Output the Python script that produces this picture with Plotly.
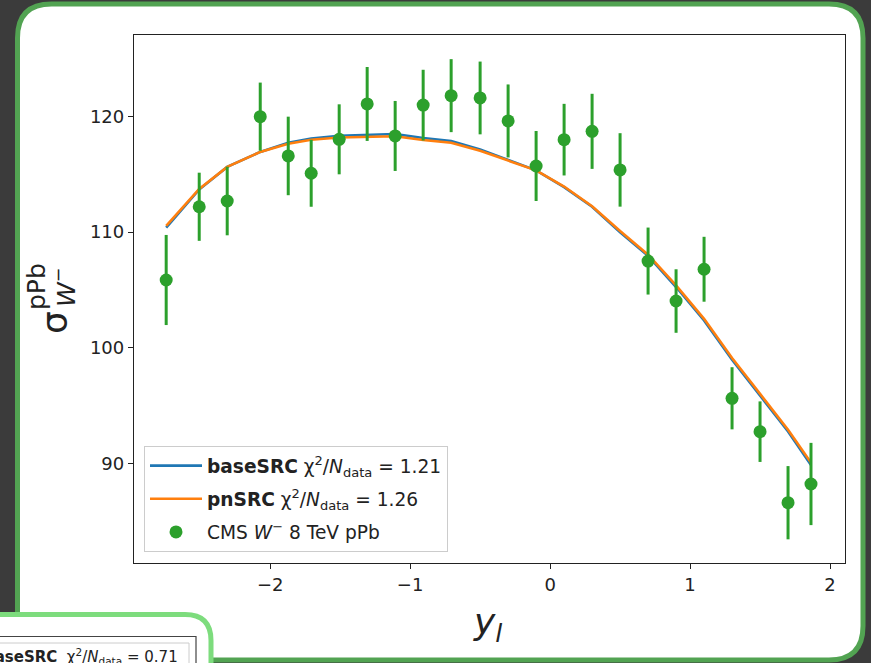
import plotly.graph_objects as go

# Lepton rapidity bin centres (centre-of-mass frame)
y_lep = [-2.743, -2.507, -2.307, -2.071, -1.871, -1.707, -1.507, -1.307,
         -1.107, -0.907, -0.707, -0.5, -0.3, -0.1, 0.1, 0.3, 0.5, 0.7,
         0.9, 1.1, 1.3, 1.5, 1.7, 1.864]

# CMS W- 8 TeV pPb cross sections and uncertainties
cms_sigma = [105.86, 112.2, 112.7, 120.0, 116.6, 115.1, 118.04, 121.1,
             118.33, 121.0, 121.82, 121.62, 119.63, 115.73, 118.01, 118.73,
             115.39, 107.5, 104.04, 106.79, 95.62, 92.73, 86.58, 88.2]
cms_err = [3.9, 2.95, 2.97, 2.95, 3.4, 2.9, 3.03, 3.2, 3.03, 3.06, 3.16,
           3.15, 3.16, 3.03, 3.1, 3.25, 3.18, 2.9, 2.75, 2.81, 2.69, 2.62,
           3.17, 3.56]

# Theory predictions
base_src = [110.4, 113.7, 115.65, 116.95, 117.75, 118.1, 118.35, 118.45,
            118.5, 118.15, 117.9, 117.15, 116.25, 115.35, 113.9, 112.2,
            110.0, 107.95, 105.25, 102.35, 98.95, 95.8, 92.75, 89.85]
pn_src = [110.55, 113.75, 115.65, 116.95, 117.65, 118.0, 118.2, 118.27,
          118.3, 117.98, 117.75, 117.05, 116.2, 115.35, 113.95, 112.25,
          110.1, 108.05, 105.4, 102.5, 99.1, 95.95, 92.9, 90.05]

chi2_base = 1.21
chi2_pn = 1.26
chi2_other = 0.71

x_ticks = [-2, -1, 0, 1, 2]
y_ticks = [90, 100, 110, 120]

W, H = 871, 663
L, R, T, B = 134, 26, 35, 100
PW, PH = W - L - R, H - T - B

BLUE, ORANGE, GREEN = "#1f77b4", "#ff7f0e", "#2ca02c"
FONT = "DejaVu Sans"


def px(X):
    return (X - L) / PW


def py(Y):
    return (H - B - Y) / PH


def rounded_path(x0, y0, x1, y1, r):
    """Rounded rectangle path in paper units from pixel corners."""
    pts = [
        f"M {px(x0 + r)},{py(y0)}",
        f"L {px(x1 - r)},{py(y0)}",
        f"Q {px(x1)},{py(y0)} {px(x1)},{py(y0 + r)}",
        f"L {px(x1)},{py(y1 - r)}",
        f"Q {px(x1)},{py(y1)} {px(x1 - r)},{py(y1)}",
        f"L {px(x0 + r)},{py(y1)}",
        f"Q {px(x0)},{py(y1)} {px(x0)},{py(y1 - r)}",
        f"L {px(x0)},{py(y0 + r)}",
        f"Q {px(x0)},{py(y0)} {px(x0 + r)},{py(y0)}",
        "Z",
    ]
    return " ".join(pts)


fig = go.Figure()

fig.add_trace(go.Scatter(
    x=y_lep, y=base_src, mode="lines",
    line=dict(color=BLUE, width=2.6),
    name=f"<b>baseSRC</b> χ<sup>2</sup>/<i>N</i><sub>data</sub> = {chi2_base:.2f}",
    legendgroup="a",
))
fig.add_trace(go.Scatter(
    x=y_lep, y=pn_src, mode="lines",
    line=dict(color=ORANGE, width=2.6),
    name=f"<b>pnSRC</b> χ<sup>2</sup>/<i>N</i><sub>data</sub> = {chi2_pn:.2f}",
    legendgroup="b",
))
fig.add_trace(go.Scatter(
    x=y_lep, y=cms_sigma, mode="markers",
    marker=dict(color=GREEN, size=13),
    error_y=dict(type="data", array=cms_err, color=GREEN, thickness=3, width=0),
    name="CMS <i>W</i><sup>−</sup> 8 TeV pPb",
    legendgroup="c",
))

shapes = [
    # outer card
    dict(type="path", xref="paper", yref="paper", layer="below",
         path=rounded_path(17.5, 4, 863, 660, 34),
         fillcolor="white", line=dict(color="#52a352", width=5)),
    # neighbouring card in the lower left
    dict(type="path", xref="paper", yref="paper", layer="above",
         path=rounded_path(-60, 614.5, 211, 720, 26),
         fillcolor="white", line=dict(color="#7ddc7d", width=5)),
    # frame and legend box inside the neighbouring card
    dict(type="rect", xref="paper", yref="paper", layer="above",
         x0=px(-10), x1=px(196), y0=py(700), y1=py(636.5),
         fillcolor="rgba(0,0,0,0)", line=dict(color="#444", width=1.2)),
    dict(type="rect", xref="paper", yref="paper", layer="above",
         x0=px(-10), x1=px(189), y0=py(700), y1=py(643),
         fillcolor="white", line=dict(color="#cccccc", width=1)),
]

annotations = [
    dict(xref="paper", yref="paper", x=px(180), y=py(656),
         xanchor="right", yanchor="middle", showarrow=False,
         text=f"<b>baseSRC</b>  χ<sup>2</sup>/<i>N</i><sub>data</sub> = {chi2_other:.2f}",
         font=dict(family=FONT, size=15, color="#222")),
    # y-axis label: sigma with stacked super/subscripts
    dict(xref="paper", yref="paper", x=px(54), y=py(323),
         xanchor="center", yanchor="middle", showarrow=False, textangle=-90,
         text="σ", font=dict(family=FONT, size=36, color="#222")),
    dict(xref="paper", yref="paper", x=px(36), y=py(287),
         xanchor="center", yanchor="middle", showarrow=False, textangle=-90,
         text="pPb", font=dict(family=FONT, size=25, color="#222")),
    dict(xref="paper", yref="paper", x=px(64), y=py(288),
         xanchor="center", yanchor="middle", showarrow=False, textangle=-90,
         text="<i>W</i><sup>−</sup>", font=dict(family=FONT, size=25, color="#222")),
    # x-axis label
    dict(xref="paper", yref="paper", x=px(487), y=py(624),
         xanchor="center", yanchor="middle", showarrow=False,
         text="<i>y</i><sub><i>l</i></sub>", font=dict(family=FONT, size=36, color="#222")),
]

fig.update_layout(
    width=W, height=H,
    margin=dict(l=L, r=R, t=T, b=B, pad=0),
    paper_bgcolor="#3b3b3b",
    plot_bgcolor="white",
    font=dict(family=FONT, size=18, color="#222"),
    shapes=shapes,
    annotations=annotations,
    showlegend=True,
    legend=dict(
        x=px(144), y=py(552), xanchor="left", yanchor="bottom",
        bgcolor="white", bordercolor="#cccccc", borderwidth=1,
        font=dict(family=FONT, size=18.6, color="#222"),
        tracegroupgap=6, itemwidth=52,
    ),
    xaxis=dict(
        range=[-2.973, 2.107], tickvals=x_ticks,
        ticktext=[str(v).replace("-", "−") for v in x_ticks],
        showgrid=False, zeroline=False, showline=True, mirror=True,
        linecolor="#222", linewidth=1.3, ticks="outside", ticklen=5,
        tickwidth=1.3, tickcolor="#222", tickfont=dict(size=18),
    ),
    yaxis=dict(
        range=[81.36, 127.07], tickvals=y_ticks,
        showgrid=False, zeroline=False, showline=True, mirror=True,
        linecolor="#222", linewidth=1.3, ticks="outside", ticklen=5,
        tickwidth=1.3, tickcolor="#222", tickfont=dict(size=18),
    ),
)

fig.write_html("out.html")
